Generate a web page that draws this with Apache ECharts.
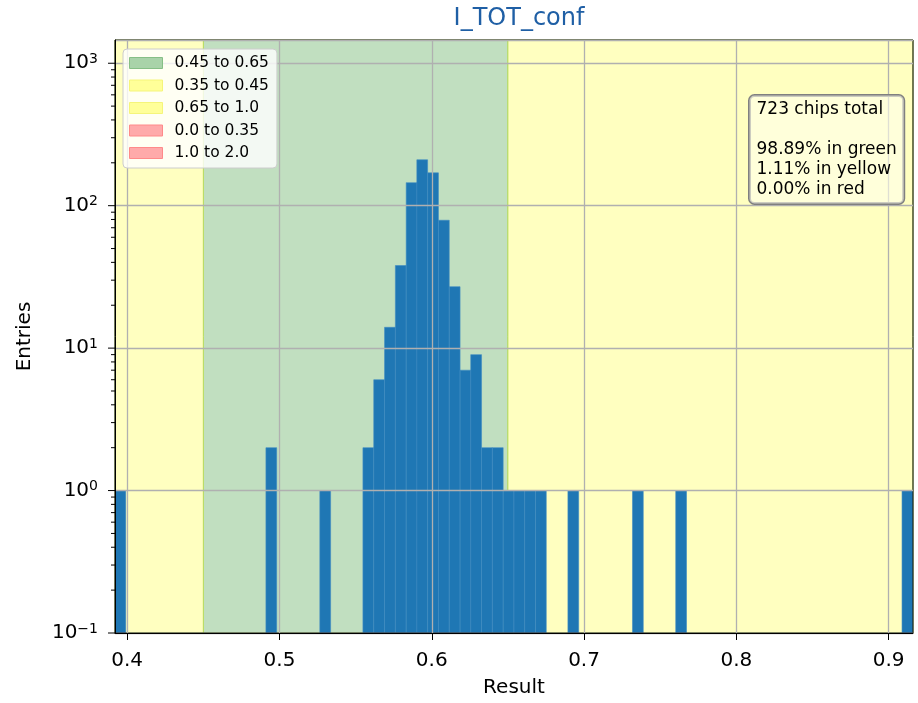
<!DOCTYPE html>
<html>
<head>
<meta charset="utf-8">
<script src="https://cdn.jsdelivr.net/npm/echarts@6/dist/echarts.min.js"></script>
<style>
html, body { margin: 0; padding: 0; background: #fff; }
#chart { width: 918px; height: 703px; }
</style>
</head>
<body>
<div id="chart"></div>
<script>
// axis ranges
var xMin = 0.392, xMax = 0.916;
var yMin = 0.1, yMax = 1456;
var xTicks = [0.4, 0.5, 0.6, 0.7, 0.8, 0.9];

// histogram (non-empty bins only)
var binWidth = 0.00708;
var binStart = [0.3920, 0.4911, 0.5265, 0.5548, 0.5619, 0.5690, 0.5761, 0.5832,
                0.5902, 0.5973, 0.6044, 0.6115, 0.6186, 0.6256, 0.6327, 0.6398,
                0.6469, 0.6540, 0.6610, 0.6681, 0.6894, 0.7318, 0.7602, 0.9088];
var counts   = [1, 2, 1, 2, 6, 14, 38, 145,
                210, 170, 79, 27, 7, 9, 2, 2,
                1, 1, 1, 1, 1, 1, 1, 1];

// shaded ranges
var bandNames = ['0.45 to 0.65', '0.35 to 0.45', '0.65 to 1.0', '0.0 to 0.35', '1.0 to 2.0'];
var bandLo    = [0.45, 0.35, 0.65, 0.0, 1.0];
var bandHi    = [0.65, 0.45, 1.0, 0.35, 2.0];
var bandKind  = ['green', 'yellow', 'yellow', 'red', 'red'];

var infoLines = ['723 chips total', '', '98.89% in green', '1.11% in yellow', '0.00% in red'];

var fillColor  = { green: '#c1dfc0', yellow: '#ffffc0', red: '#ffc0c0' };
var patchColor = { green: '#a9d3a9', yellow: '#ffff99', red: '#ffaaaa' };
var patchEdge  = { green: '#86bf86', yellow: '#f5f57a', red: '#ff8a8a' };

var chart = echarts.init(document.getElementById('chart'));

var histData = [];
for (var i = 0; i < binStart.length; i++) {
    histData.push([binStart[i], counts[i]]);
}

// y tick marks (log axis): decades + 2..9 minors
var yTickData = [];
for (var k = -1; k <= 3; k++) {
    for (var m = 1; m <= 9; m++) {
        var v = m * Math.pow(10, k);
        if (v <= yMax) yTickData.push([xMin, v, m == 1 ? 1 : 0]);
    }
}

var series = [];
for (var b = 0; b < bandNames.length; b++) {
    var lo = Math.max(bandLo[b], xMin), hi = Math.min(bandHi[b], xMax);
    var areas = hi > lo ? [[{ xAxis: lo }, { xAxis: hi }]] : [];
    series.push({
        name: bandNames[b],
        type: 'bar',
        data: [],
        z: -5,
        itemStyle: { color: patchColor[bandKind[b]], borderColor: patchEdge[bandKind[b]], borderWidth: 1 },
        markArea: {
            silent: true,
            z: -5,
            itemStyle: { color: fillColor[bandKind[b]], borderColor: 'rgba(175,215,80,0.8)', borderWidth: 1 },
            data: areas
        }
    });
}

series.push({
    name: 'hist',
    type: 'custom',
    z: -2,
    clip: true,
    silent: true,
    encode: { x: 0, y: 1 },
    data: histData,
    renderItem: function (params, api) {
        var x0 = api.value(0), c = api.value(1);
        var p0 = api.coord([x0, c]);
        var p1 = api.coord([x0 + binWidth, yMin]);
        return {
            type: 'rect',
            shape: { x: p0[0], y: p0[1], width: p1[0] - p0[0], height: p1[1] - p0[1] },
            style: { fill: '#1f77b4', stroke: '#3f8cc2', lineWidth: 0.6 }
        };
    }
});

series.push({
    name: 'yticks',
    type: 'custom',
    z: 5,
    silent: true,
    encode: { x: 0, y: 1 },
    data: yTickData,
    renderItem: function (params, api) {
        var p = api.coord([xMin, api.value(1)]);
        var len = api.value(2) ? 7 : 4;
        return {
            type: 'line',
            shape: { x1: p[0] - len, y1: p[1], x2: p[0], y2: p[1] },
            style: { stroke: '#000', lineWidth: 1 }
        };
    }
});

var option = {
    backgroundColor: '#fff',
    animation: false,
    textStyle: { fontFamily: 'DejaVu Sans' },
    title: {
        text: 'I_TOT_conf',
        left: 514,
        textAlign: 'center',
        top: 2,
        textStyle: { fontSize: 24, fontWeight: 'normal', color: '#1f5fa5', fontFamily: 'DejaVu Sans' }
    },
    grid: {
        left: 115, right: 5, top: 40, bottom: 67,
        show: true, borderColor: '#000', borderWidth: 1, backgroundColor: 'transparent'
    },
    legend: {
        orient: 'vertical',
        left: 123, top: 49,
        icon: 'rect',
        itemWidth: 33, itemHeight: 11, itemGap: 6.5,
        padding: [6, 8, 7, 6],
        backgroundColor: 'rgba(255,255,255,0.8)',
        borderColor: '#cccccc', borderWidth: 1, borderRadius: 4,
        textStyle: { fontSize: 15.5, color: '#000', fontFamily: 'DejaVu Sans', padding: [0, 0, 0, 7] },
        data: bandNames.map(function (n, idx) {
            return { name: n, itemStyle: { color: patchColor[bandKind[idx]], borderColor: patchEdge[bandKind[idx]], borderWidth: 1 } };
        })
    },
    xAxis: {
        type: 'value',
        min: xMin, max: xMax,
        name: 'Result',
        nameLocation: 'middle',
        nameGap: 45,
        nameTextStyle: { fontSize: 20, color: '#000' },
        axisLine: { show: true, lineStyle: { color: '#000', width: 1 } },
        axisTick: { show: true, length: 7, lineStyle: { color: '#000' }, customValues: xTicks },
        axisLabel: { fontSize: 20, color: '#000', margin: 18, customValues: xTicks },
        splitLine: { show: true, lineStyle: { color: '#b0b0b0', width: 1.3 } }
    },
    yAxis: {
        type: 'log',
        logBase: 10,
        min: yMin, max: yMax,
        name: 'Entries',
        nameLocation: 'middle',
        nameGap: 80,
        nameTextStyle: { fontSize: 20, color: '#000' },
        axisLine: { show: true, lineStyle: { color: '#000', width: 1 } },
        axisTick: { show: false },
        axisLabel: {
            margin: 17,
            color: '#000',
            showMaxLabel: false,
            formatter: function (v) {
                var e = Math.log10(v), n = Math.round(e);
                if (Math.abs(e - n) > 1e-6) return '';
                return '{b|10}{s|' + (n < 0 ? '\u2212' + (-n) : n) + '}';
            },
            rich: {
                b: { fontSize: 20, color: '#000', fontFamily: 'DejaVu Sans' },
                s: { fontSize: 14, color: '#000', fontFamily: 'DejaVu Sans', verticalAlign: 'top', padding: [0, 0, 8, 0] }
            }
        },
        splitLine: { show: true, lineStyle: { color: '#b0b0b0', width: 1.3 } }
    },
    graphic: [{
        type: 'text',
        left: 748, top: 94, z: 100,
        style: {
            text: infoLines.join('\n'),
            font: '17px "DejaVu Sans"',
            fill: '#000',
            lineHeight: 20,
            backgroundColor: 'rgba(255,255,235,0.6)',
            borderColor: '#808080',
            borderWidth: 1.5,
            borderRadius: 5,
            padding: [4, 7, 4, 7]
        }
    }],
    series: series
};

chart.setOption(option);
window.addEventListener('resize', chart.resize);
</script>
</body>
</html>
